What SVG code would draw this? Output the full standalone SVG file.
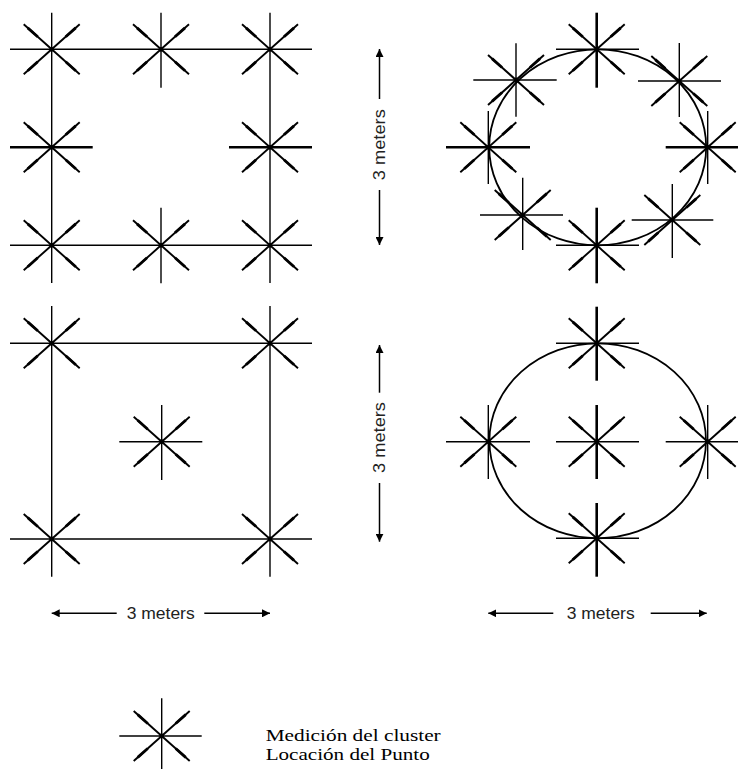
<svg xmlns="http://www.w3.org/2000/svg" xmlns:xlink="http://www.w3.org/1999/xlink" width="739" height="769" viewBox="0 0 739 769">
<style>
.thin{stroke:#000;stroke-width:1.4;fill:none}
.thick{stroke:#000;stroke-width:2.6;fill:none}
.ring{stroke:#000;stroke-width:1.8;fill:none}
.dim{stroke:#000;stroke-width:1.5;fill:none}
.lbl{font-family:"Liberation Sans",Arial,sans-serif;font-size:16px;fill:#222}
.leg{font-family:"Liberation Serif","Times New Roman",serif;font-size:16px;fill:#000}
</style>
<defs>
<g id="diag">
<line x1="-28" y1="-25" x2="28" y2="25" stroke="#000" stroke-width="1.9"/>
<line x1="-28" y1="25" x2="28" y2="-25" stroke="#000" stroke-width="1.9"/>
<line x1="-24" y1="-21.4" x2="-14" y2="-12.5" stroke="#000" stroke-width="2.8"/>
<line x1="24" y1="21.4" x2="14" y2="12.5" stroke="#000" stroke-width="2.8"/>
<line x1="-24" y1="21.4" x2="-14" y2="12.5" stroke="#000" stroke-width="2.8"/>
<line x1="24" y1="-21.4" x2="14" y2="-12.5" stroke="#000" stroke-width="2.8"/>
<circle r="2.4" fill="#000"/>
</g>
<marker id="ah" viewBox="0 0 8 8" refX="8" refY="4" markerWidth="8" markerHeight="8" markerUnits="userSpaceOnUse" orient="auto">
<path d="M0,0 L8,4 L0,8 z" fill="#000"/>
</marker>
</defs>
<rect width="739" height="769" fill="#fff"/>

<g id="connectors">
<line class="thin" x1="10" y1="49.3" x2="312" y2="49.3"/>
<line class="thin" x1="10" y1="245.3" x2="312" y2="245.3"/>
<line class="thin" x1="51.7" y1="12.7" x2="51.7" y2="283"/>
<line class="thin" x1="270" y1="12.7" x2="270" y2="283"/>
<line class="thin" x1="10" y1="343.3" x2="312" y2="343.3"/>
<line class="thin" x1="10" y1="539" x2="312" y2="539"/>
<line class="thin" x1="51.7" y1="306" x2="51.7" y2="576.7"/>
<line class="thin" x1="270" y1="306" x2="270" y2="576.7"/>
<ellipse class="ring" cx="597.7" cy="147.3" rx="108.5" ry="98"/>
<ellipse class="ring" cx="597.7" cy="440.8" rx="108.3" ry="97.5"/>
<line class="dim" x1="379.5" y1="99" x2="379.5" y2="49" marker-end="url(#ah)"/>
<line class="dim" x1="379.5" y1="190" x2="379.5" y2="245" marker-end="url(#ah)"/>
<line class="dim" x1="379.5" y1="392.7" x2="379.5" y2="345" marker-end="url(#ah)"/>
<line class="dim" x1="379.5" y1="483" x2="379.5" y2="541.7" marker-end="url(#ah)"/>
<line class="dim" x1="116.7" y1="613.3" x2="51.7" y2="613.3" marker-end="url(#ah)"/>
<line class="dim" x1="204.3" y1="613.3" x2="270" y2="613.3" marker-end="url(#ah)"/>
<line class="dim" x1="553.3" y1="613.3" x2="488.3" y2="613.3" marker-end="url(#ah)"/>
<line class="dim" x1="650.7" y1="613.3" x2="706.7" y2="613.3" marker-end="url(#ah)"/>
</g>

<g id="labels">
<text class="lbl" transform="translate(379.5,144.7) rotate(-90)" text-anchor="middle" dominant-baseline="central" textLength="71" lengthAdjust="spacingAndGlyphs">3 meters</text>
<text class="lbl" transform="translate(379.5,437.5) rotate(-90)" text-anchor="middle" dominant-baseline="central" textLength="71" lengthAdjust="spacingAndGlyphs">3 meters</text>
<text class="lbl" x="126.7" y="619" textLength="68" lengthAdjust="spacingAndGlyphs">3 meters</text>
<text class="lbl" x="566.7" y="619" textLength="68" lengthAdjust="spacingAndGlyphs">3 meters</text>
</g>

<g id="sq1-tl"><use xlink:href="#diag" x="51.7" y="49.3"/></g>
<g id="sq1-tm"><use xlink:href="#diag" x="161" y="49.3"/><line class="thin" x1="161" y1="12.7" x2="161" y2="87.7"/></g>
<g id="sq1-tr"><use xlink:href="#diag" x="270" y="49.3"/></g>
<g id="sq1-ml"><use xlink:href="#diag" x="51.7" y="147.3"/><line class="thick" x1="10" y1="147.3" x2="92.7" y2="147.3"/></g>
<g id="sq1-mr"><use xlink:href="#diag" x="270" y="147.3"/><line class="thick" x1="229" y1="147.3" x2="312" y2="147.3"/></g>
<g id="sq1-bl"><use xlink:href="#diag" x="51.7" y="245.3"/></g>
<g id="sq1-bm"><use xlink:href="#diag" x="161" y="245.3"/><line class="thin" x1="161" y1="207.7" x2="161" y2="283.3"/></g>
<g id="sq1-br"><use xlink:href="#diag" x="270" y="245.3"/></g>

<g id="c1-t"><use xlink:href="#diag" x="596.7" y="49.3"/><line class="thick" x1="596.7" y1="12.7" x2="596.7" y2="87.7"/><line class="thin" x1="556" y1="49.3" x2="639" y2="49.3"/></g>
<g id="c1-b"><use xlink:href="#diag" x="596.7" y="245.3"/><line class="thick" x1="596.7" y1="207.7" x2="596.7" y2="283.3"/><line class="thin" x1="556" y1="245.3" x2="639" y2="245.3"/></g>
<g id="c1-l"><use xlink:href="#diag" x="488.3" y="147.3"/><line class="thick" x1="446" y1="147.3" x2="530" y2="147.3"/><line class="thin" x1="488.3" y1="111" x2="488.3" y2="184"/></g>
<g id="c1-r"><use xlink:href="#diag" x="707.7" y="147.3"/><line class="thick" x1="665.7" y1="147.3" x2="738" y2="147.3"/><line class="thin" x1="707.7" y1="111" x2="707.7" y2="184"/></g>
<g id="c1-ul"><use xlink:href="#diag" x="516" y="80"/><line class="thin" x1="473.3" y1="80" x2="556.7" y2="80"/><line class="thin" x1="516" y1="43.3" x2="516" y2="116.7"/></g>
<g id="c1-ur"><use xlink:href="#diag" x="679.3" y="81"/><line class="thin" x1="638" y1="81" x2="721" y2="81"/><line class="thin" x1="679.3" y1="43" x2="679.3" y2="117"/></g>
<g id="c1-ll"><use xlink:href="#diag" x="522.7" y="215"/><line class="thin" x1="480" y1="215" x2="563" y2="215"/><line class="thin" x1="522.7" y1="177.7" x2="522.7" y2="250"/></g>
<g id="c1-lr"><use xlink:href="#diag" x="672.3" y="220"/><line class="thin" x1="631.7" y1="220" x2="713.3" y2="220"/><line class="thin" x1="672.3" y1="184" x2="672.3" y2="258"/></g>

<g id="sq2-tl"><use xlink:href="#diag" x="51.7" y="343.3"/></g>
<g id="sq2-tr"><use xlink:href="#diag" x="270" y="343.3"/></g>
<g id="sq2-c"><use xlink:href="#diag" x="161.7" y="441.7"/><line class="thin" x1="119.3" y1="441.7" x2="202.3" y2="441.7"/><line class="thin" x1="161.7" y1="405" x2="161.7" y2="480"/></g>
<g id="sq2-bl"><use xlink:href="#diag" x="51.7" y="539"/></g>
<g id="sq2-br"><use xlink:href="#diag" x="270" y="539"/></g>

<g id="c2-t"><use xlink:href="#diag" x="596.7" y="343.3"/><line class="thick" x1="596.7" y1="306.7" x2="596.7" y2="380.7"/><line class="thin" x1="556" y1="343.3" x2="639" y2="343.3"/></g>
<g id="c2-c"><use xlink:href="#diag" x="596.7" y="441.7"/><line class="thick" x1="596.7" y1="405" x2="596.7" y2="479"/><line class="thin" x1="556" y1="441.7" x2="639" y2="441.7"/></g>
<g id="c2-l"><use xlink:href="#diag" x="488.3" y="441.7"/><line class="thin" x1="446" y1="441.7" x2="530" y2="441.7"/><line class="thin" x1="488.3" y1="405" x2="488.3" y2="479"/></g>
<g id="c2-r"><use xlink:href="#diag" x="707.7" y="441.7"/><line class="thin" x1="665.7" y1="441.7" x2="738" y2="441.7"/><line class="thin" x1="707.7" y1="405" x2="707.7" y2="479"/></g>
<g id="c2-b"><use xlink:href="#diag" x="596.7" y="538.3"/><line class="thick" x1="596.7" y1="503" x2="596.7" y2="576.7"/><line class="thin" x1="556" y1="538.3" x2="639" y2="538.3"/></g>

<g id="legend">
<use xlink:href="#diag" x="161.7" y="736"/>
<line class="thin" x1="161.7" y1="698.3" x2="161.7" y2="769"/>
<line class="thin" x1="119.3" y1="736" x2="201.7" y2="736"/>
<text class="leg" x="265.7" y="741" textLength="175" lengthAdjust="spacingAndGlyphs">Medición del cluster</text>
<text class="leg" x="265.7" y="760" textLength="164" lengthAdjust="spacingAndGlyphs">Locación del Punto</text>
</g>
</svg>
